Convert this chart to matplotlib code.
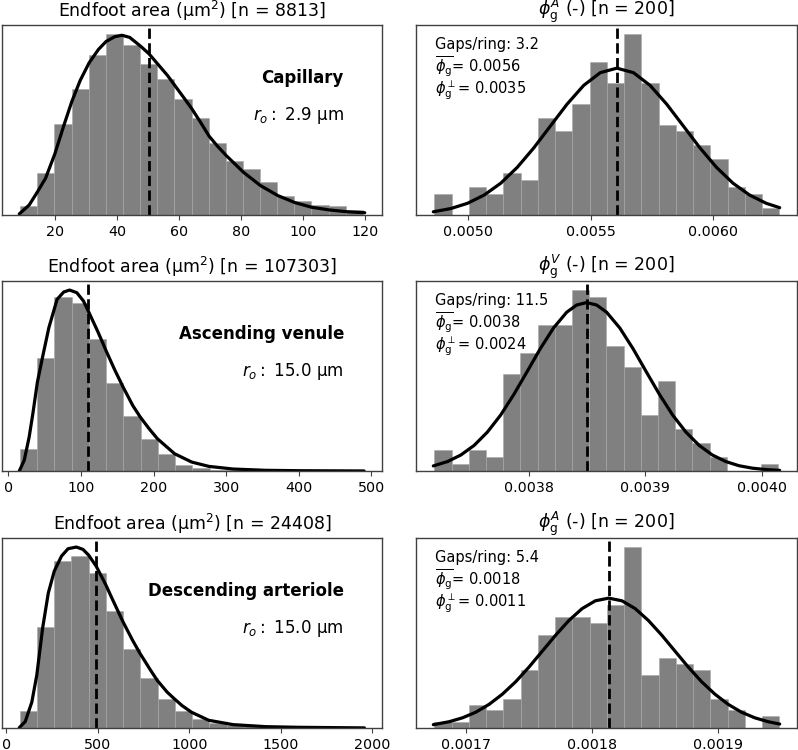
import numpy as np
import matplotlib
matplotlib.use("Agg")
import matplotlib.pyplot as plt
from matplotlib.ticker import MultipleLocator, FormatStrFormatter

# ---- bins (first edge, width), bar counts, fitted curve, mean ----
# capillary endfoot area
cap_lo, cap_w = 8.6, 5.54
cap_counts = [50, 240, 521, 721, 912, 1034, 973, 861, 778, 664,
              555, 412, 311, 263, 187, 107, 82, 57, 53, 29]
cap_fx = [8.3, 11.5, 14.1, 16.8, 19.8, 22.7, 25.3, 28.0, 30.9, 33.9, 36.4, 39.2, 41.5,
          44.0, 47.5, 50.2, 53.0, 56.2, 58.6, 61.6, 64.1, 66.9, 69.7, 72.5, 75.2, 80.8,
          86.3, 91.9, 97.4, 102.9, 108.5, 114.0, 120.0]
cap_fy = [6, 57, 130, 210, 349, 511, 649, 769, 870, 946, 992, 1019, 1027,
          1015, 965, 922, 864, 798, 740, 668, 607, 530, 450, 391, 340, 244,
          168, 111, 71, 44, 29, 19, 13]
cap_mean = 50.2

# ascending venule endfoot area
av_lo, av_w = 15.9, 23.75
av_counts = [2935, 14940, 22910, 22160, 17430, 11610, 7230, 4200, 2280, 790,
             350, 175, 90, 45, 40, 25, 20, 15, 10, 8]
av_fx = [15.0, 21.8, 28.6, 34.0, 39.9, 46.7, 55.8, 67.1, 76.2, 84.3, 94.3, 103.4, 111.1,
         123.8, 134.6, 146.4, 158.2, 171.4, 181.8, 194.0, 205.4, 228.9, 252.5, 276.1,
         309.6, 354.9, 400.3, 490.0]
av_fy = [0, 1400, 4470, 7750, 11690, 14850, 18920, 22640, 23610, 23870, 23520, 22430, 20890,
         18260, 15860, 13360, 11040, 8630, 7100, 5560, 4250, 2280, 1180, 610,
         260, 90, 40, 5]
av_mean = 109.2

# descending arteriole endfoot area
da_lo, da_w = 72.2, 94.4
da_counts = [452, 2666, 4410, 4525, 4083, 3082, 2081, 1328, 762, 452,
             248, 133, 71, 44, 27, 18, 9, 9, 4, 4]
da_fx = [70.4, 102.9, 139.0, 166.1, 198.6, 229.2, 261.7, 301.4, 337.5, 382.7, 418.8,
         449.5, 491.0, 543.3, 581.2, 637.2, 689.5, 731.0, 788.8, 824.9, 879.1, 918.8,
         960.3, 1012.6, 1059.6, 1106.5, 1240.1, 1420.6, 1601.1, 1958.5]
da_fy = [9, 168, 682, 1390, 2648, 3560, 4136, 4534, 4729, 4773, 4711,
         4561, 4269, 3781, 3383, 2807, 2320, 1966, 1523, 1258, 948, 770,
         593, 416, 310, 204, 89, 35, 18, 3]
da_mean = 487.4

# gap fractions
pA_lo, pA_w = 0.0048599, 0.00007068
pA_counts = [3, 0, 4, 3, 6, 5, 14, 12, 16, 22, 19, 26, 19, 13, 12, 10, 8, 4, 3, 1]
pA_fx = [0.004856, 0.004928, 0.004996, 0.005064, 0.005132, 0.005200, 0.005268, 0.005336,
         0.005404, 0.005472, 0.005540, 0.005608, 0.005676, 0.005744, 0.005812, 0.005880,
         0.005948, 0.006016, 0.006084, 0.006152, 0.006220, 0.006275]
pA_fy = [0.46, 0.93, 1.68, 2.86, 4.56, 6.85, 9.66, 12.80, 15.93, 18.62, 20.45, 21.1,
         20.45, 18.62, 15.93, 12.80, 9.66, 6.85, 4.56, 2.86, 1.68, 1.05]
pA_mean = 0.005608

pV_lo, pV_w = 0.00371915, 0.00001474
pV_counts = [3, 1, 3, 2, 14, 17, 21, 21, 26, 25, 18, 15, 8, 13, 6, 4, 2, 0, 0, 1]
pV_fx = [0.0037183, 0.0037305, 0.0037418, 0.0037532, 0.0037645, 0.0037759, 0.0037872,
         0.0037986, 0.0038099, 0.0038213, 0.0038326, 0.0038411, 0.0038496, 0.0038582,
         0.0038667, 0.0038780, 0.0038894, 0.0039007, 0.0039121, 0.0039234, 0.0039348,
         0.0039461, 0.0039574, 0.0039688, 0.0039801, 0.0039915, 0.0040028, 0.0040150]
pV_fy = [0.73, 1.36, 2.29, 3.67, 5.57, 8.02, 10.98, 14.26, 17.57, 20.56, 22.82, 23.85,
         24.2, 23.85, 22.82, 20.56, 17.57, 14.26, 10.98, 8.02, 5.57, 3.67, 2.29, 1.36,
         0.76, 0.41, 0.21, 0.09]
pV_mean = 0.0038496

pD_lo, pD_w = 0.0016750, 0.00001367
pD_counts = [1, 1, 4, 3, 5, 10, 16, 19, 19, 18, 21, 31, 9, 12, 11, 10, 5, 3, 0, 2]
pD_fx = [0.0016742, 0.0016868, 0.0016974, 0.0017079, 0.0017184, 0.0017289, 0.0017395,
         0.0017500, 0.0017605, 0.0017711, 0.0017816, 0.0017921, 0.0018026, 0.0018132,
         0.0018237, 0.0018342, 0.0018447, 0.0018553, 0.0018658, 0.0018763, 0.0018868,
         0.0018974, 0.0019079, 0.0019184, 0.0019289, 0.0019395, 0.0019487]
pD_fy = [0.57, 1.08, 1.75, 2.71, 4.05, 5.79, 7.93, 10.43, 13.15, 15.89, 18.41, 20.45,
         21.79, 22.25, 21.79, 20.45, 18.41, 15.89, 13.15, 10.43, 7.93, 5.79, 4.05, 2.71,
         1.75, 1.08, 0.68]
pD_mean = 0.0018132

vessels = ["Capillary", "Ascending venule", "Descending arteriole"]
radii = ["2.9", "15.0", "15.0"]
n_area = [8813, 107303, 24408]
phi_sup = ["A", "V", "A"]
gaps = ["3.2", "11.5", "5.4"]
phi_mean = ["0.0056", "0.0038", "0.0018"]
phi_perp = ["0.0035", "0.0024", "0.0011"]
phi_step = [0.0005, 0.0001, 0.0001]     # x tick spacing of the right column

left = [(cap_lo, cap_w, cap_counts, cap_fx, cap_fy, cap_mean),
        (av_lo, av_w, av_counts, av_fx, av_fy, av_mean),
        (da_lo, da_w, da_counts, da_fx, da_fy, da_mean)]
right = [(pA_lo, pA_w, pA_counts, pA_fx, pA_fy, pA_mean),
         (pV_lo, pV_w, pV_counts, pV_fx, pV_fy, pV_mean),
         (pD_lo, pD_w, pD_counts, pD_fx, pD_fy, pD_mean)]

fig = plt.figure(figsize=(7.98, 7.5), dpi=100)
bottoms = [1 - 215/750, 1 - 471/750, 1 - 728/750]
H = 190/750


def panel(ax, lo, w, counts, fx, fy, mean):
    edges = lo + w*np.arange(len(counts))
    ax.bar(edges, counts, width=w, align="edge", color="gray",
           edgecolor="#a8a8a8", linewidth=0.4)
    ax.plot(fx, fy, color="black", lw=2.3, solid_capstyle="round")
    ax.axvline(mean, color="black", ls="--", lw=2.0)
    ax.set_yticks([])
    ax.tick_params(axis="x", labelsize=10.3, color="0.25")
    for s in ax.spines.values():
        s.set_color("0.25")
        s.set_linewidth(1.0)


for i in range(3):
    axl = fig.add_axes([2/798, bottoms[i], 380/798, H])
    panel(axl, *left[i])
    axl.set_title(f"Endfoot area (μm$^2$) [n = {n_area[i]}]", fontsize=12.5)
    axl.text(0.90, 0.696, vessels[i], transform=axl.transAxes, ha="right",
             va="baseline", fontsize=12, fontweight="bold")
    axl.text(0.90, 0.50, f"$r_o:$ {radii[i]} μm", transform=axl.transAxes,
             ha="right", va="baseline", fontsize=12)

    axr = fig.add_axes([416/798, bottoms[i], 381/798, H])
    panel(axr, *right[i])
    axr.xaxis.set_major_locator(MultipleLocator(phi_step[i]))
    axr.xaxis.set_major_formatter(FormatStrFormatter("%.4f"))
    axr.set_title(rf"$\phi_\mathrm{{g}}^{phi_sup[i]}$ (-) [n = 200]", fontsize=12.5)
    axr.text(0.05, 0.872, f"Gaps/ring: {gaps[i]}", transform=axr.transAxes,
             va="baseline", fontsize=10.5)
    axr.text(0.05, 0.754, rf"$\overline{{\phi_\mathrm{{g}}}}$= {phi_mean[i]}",
             transform=axr.transAxes, va="baseline", fontsize=10.5)
    axr.text(0.05, 0.640, rf"$\phi_\mathrm{{g}}^\perp$= {phi_perp[i]}",
             transform=axr.transAxes, va="baseline", fontsize=10.5)

fig.savefig("out.png", dpi=100)
